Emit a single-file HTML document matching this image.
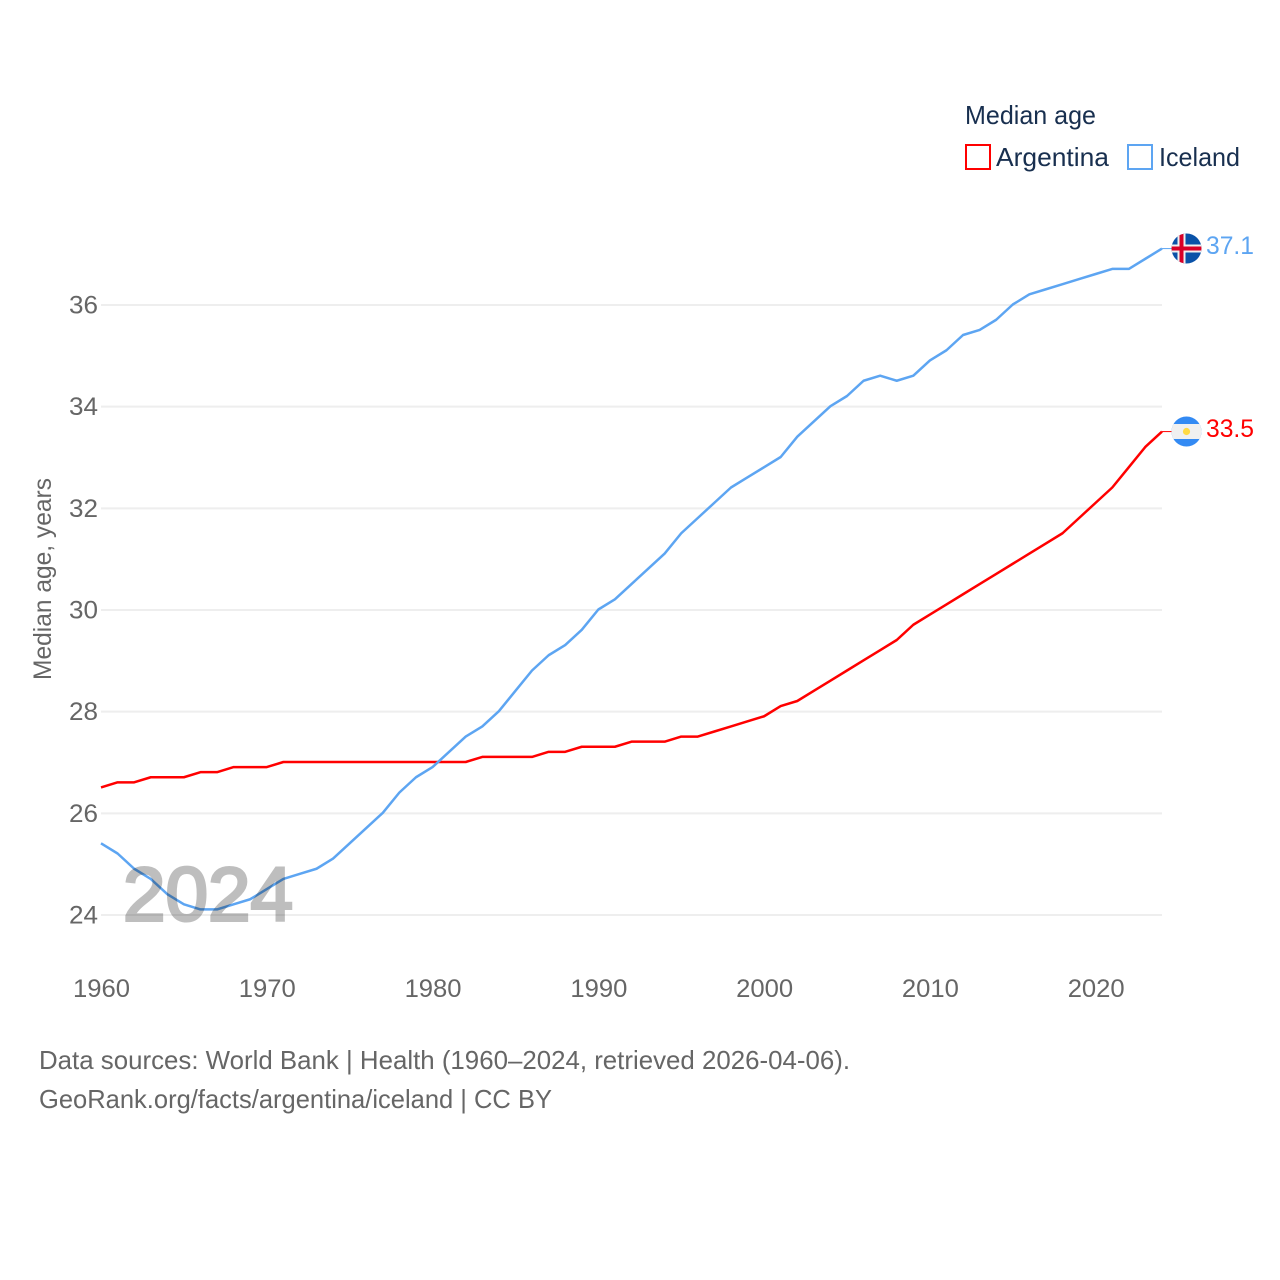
<!DOCTYPE html>
<html lang="en">
<head>
<meta charset="utf-8">
<title>Median age: Argentina and Iceland</title>
<style>
html,body{margin:0;padding:0;background:#fff;width:1280px;height:1280px;overflow:hidden}
svg{display:block}
text{font-family:"Liberation Sans",sans-serif}
</style>
</head>
<body>
<svg id="chart" width="1280" height="1280" viewBox="0 0 1280 1280" xmlns="http://www.w3.org/2000/svg">
  <defs>
    <clipPath id="flag-clip-is"><circle cx="1186.5" cy="248.5" r="15"/></clipPath>
    <clipPath id="flag-clip-ar"><circle cx="1186.5" cy="431.5" r="15"/></clipPath>
  </defs>
  <g id="grid"></g>
  <g id="yticks"></g>
  <g id="xticks"></g>
  <g id="series" transform="translate(0,-0.5)"></g>

  <text transform="translate(51,680) rotate(-90)" font-size="25" fill="#666" textLength="202" lengthAdjust="spacingAndGlyphs">Median age, years</text>

  <text x="123" y="920.5" font-size="76" fill="#000" stroke="#000" stroke-width="3" opacity="0.25" textLength="170" lengthAdjust="spacingAndGlyphs">2024</text>

  <g>
    <text x="965" y="124" font-size="26" fill="#182f4f" textLength="131" lengthAdjust="spacingAndGlyphs">Median age</text>
    <rect x="966" y="145" width="24" height="24" fill="none" stroke="#ff0000" stroke-width="2"/>
    <text x="996" y="166" font-size="26" fill="#182f4f" textLength="113" lengthAdjust="spacingAndGlyphs">Argentina</text>
    <rect x="1128" y="145" width="24" height="24" fill="none" stroke="#5da5f2" stroke-width="2"/>
    <text x="1159" y="166" font-size="26" fill="#182f4f" textLength="81" lengthAdjust="spacingAndGlyphs">Iceland</text>
  </g>

  <g clip-path="url(#flag-clip-is)">
    <rect x="1171" y="233" width="31" height="31" fill="#0a52a8"/>
    <rect x="1177.5" y="233" width="8" height="31" fill="#f0f0f0"/>
    <rect x="1171" y="244.5" width="31" height="8" fill="#f0f0f0"/>
    <rect x="1179.5" y="233" width="4" height="31" fill="#d80027"/>
    <rect x="1171" y="246.5" width="31" height="4" fill="#d80027"/>
  </g>
  <g clip-path="url(#flag-clip-ar)">
    <rect x="1171" y="416" width="31" height="31" fill="#338af3"/>
    <rect x="1171" y="424" width="31" height="15" fill="#f0f0f0"/>
    <circle cx="1186.5" cy="431.5" r="3.6" fill="#ffda44"/>
  </g>

  <text x="1206" y="254" font-size="25" fill="#5da5f2" textLength="48" lengthAdjust="spacingAndGlyphs">37.1</text>
  <text x="1206" y="437" font-size="25" fill="#ff0000" textLength="48" lengthAdjust="spacingAndGlyphs">33.5</text>

  <text x="39" y="1069" font-size="26" fill="#666" textLength="811" lengthAdjust="spacingAndGlyphs">Data sources: World Bank | Health (1960–2024, retrieved 2026-04-06).</text>
  <a><text x="39" y="1108" font-size="26" fill="#666" textLength="513" lengthAdjust="spacingAndGlyphs">GeoRank.org/facts/argentina/iceland | CC BY</text></a>
</svg>
<script>
const years = [1960,1961,1962,1963,1964,1965,1966,1967,1968,1969,1970,1971,1972,1973,1974,1975,1976,1977,1978,1979,1980,1981,1982,1983,1984,1985,1986,1987,1988,1989,1990,1991,1992,1993,1994,1995,1996,1997,1998,1999,2000,2001,2002,2003,2004,2005,2006,2007,2008,2009,2010,2011,2012,2013,2014,2015,2016,2017,2018,2019,2020,2021,2022,2023,2024];
const argentina = [26.5,26.6,26.6,26.7,26.7,26.7,26.8,26.8,26.9,26.9,26.9,27.0,27.0,27.0,27.0,27.0,27.0,27.0,27.0,27.0,27.0,27.0,27.0,27.1,27.1,27.1,27.1,27.2,27.2,27.3,27.3,27.3,27.4,27.4,27.4,27.5,27.5,27.6,27.7,27.8,27.9,28.1,28.2,28.4,28.6,28.8,29.0,29.2,29.4,29.7,29.9,30.1,30.3,30.5,30.7,30.9,31.1,31.3,31.5,31.8,32.1,32.4,32.8,33.2,33.5];
const iceland = [25.4,25.2,24.9,24.7,24.4,24.2,24.1,24.1,24.2,24.3,24.5,24.7,24.8,24.9,25.1,25.4,25.7,26.0,26.4,26.7,26.9,27.2,27.5,27.7,28.0,28.4,28.8,29.1,29.3,29.6,30.0,30.2,30.5,30.8,31.1,31.5,31.8,32.1,32.4,32.6,32.8,33.0,33.4,33.7,34.0,34.2,34.5,34.6,34.5,34.6,34.9,35.1,35.4,35.5,35.7,36.0,36.2,36.3,36.4,36.5,36.6,36.7,36.7,36.9,37.1];
const yTickValues = [24,26,28,30,32,34,36];
const xTickValues = [1960,1970,1980,1990,2000,2010,2020];

const NS = 'http://www.w3.org/2000/svg';
const xScale = function (year) { return 101 + (year - 1960) * (1162 - 101) / 64; };
const yScale = function (value) { return 915 - (value - 24) * (915 - 305) / 12; };
const gridLayer = document.getElementById('grid');
const yTickLayer = document.getElementById('yticks');
const xTickLayer = document.getElementById('xticks');
const seriesLayer = document.getElementById('series');

yTickValues.forEach(function (v) {
  const line = document.createElementNS(NS, 'line');
  
  
  line.setAttribute('x1', 101);
  line.setAttribute('x2', 1162);
  line.setAttribute('y1', yScale(v));
  line.setAttribute('y2', yScale(v));
  line.setAttribute('stroke', '#eeeeee');
  line.setAttribute('stroke-width', 2);
  gridLayer.appendChild(line);

  const label = document.createElementNS(NS, 'text');
  
  
  label.setAttribute('x', 69);
  label.setAttribute('y', yScale(v) + 8.5);
  label.setAttribute('font-size', 25);
  label.setAttribute('fill', '#666');
  label.setAttribute('textLength', 29);
  label.setAttribute('lengthAdjust', 'spacingAndGlyphs');
  label.textContent = String(v);
  yTickLayer.appendChild(label);
});

xTickValues.forEach(function (v) {
  const label = document.createElementNS(NS, 'text');
  
  
  label.setAttribute('x', xScale(v) - 28);
  label.setAttribute('y', 997);
  label.setAttribute('font-size', 25);
  label.setAttribute('fill', '#666');
  label.setAttribute('textLength', 57);
  label.setAttribute('lengthAdjust', 'spacingAndGlyphs');
  label.textContent = String(v);
  xTickLayer.appendChild(label);
});

function drawSeries(values, color, name, stubEnd) {
  const pts = values.map(function (v, i) {
    return xScale(years[i]).toFixed(2) + ',' + yScale(v).toFixed(2);
  });
  const last = values[values.length - 1];
  const stub = xScale(years[years.length - 1]);
  const line = document.createElementNS(NS, 'polyline');
  
  
  line.setAttribute('points', pts.join(' '));
  line.setAttribute('fill', 'none');
  line.setAttribute('stroke', color);
  line.setAttribute('stroke-width', 2.5);
  line.setAttribute('stroke-linejoin', 'round');
  seriesLayer.appendChild(line);

  const connector = document.createElementNS(NS, 'line');
  
  
  connector.setAttribute('x1', stub);
  connector.setAttribute('x2', stubEnd);
  connector.setAttribute('y1', yScale(last));
  connector.setAttribute('y2', yScale(last));
  connector.setAttribute('stroke', color);
  connector.setAttribute('stroke-width', 1);
  seriesLayer.appendChild(connector);
}

drawSeries(argentina, '#ff0000', 'argentina', 1172);
drawSeries(iceland, '#5da5f2', 'iceland', 1172);
</script>
</body>
</html>
